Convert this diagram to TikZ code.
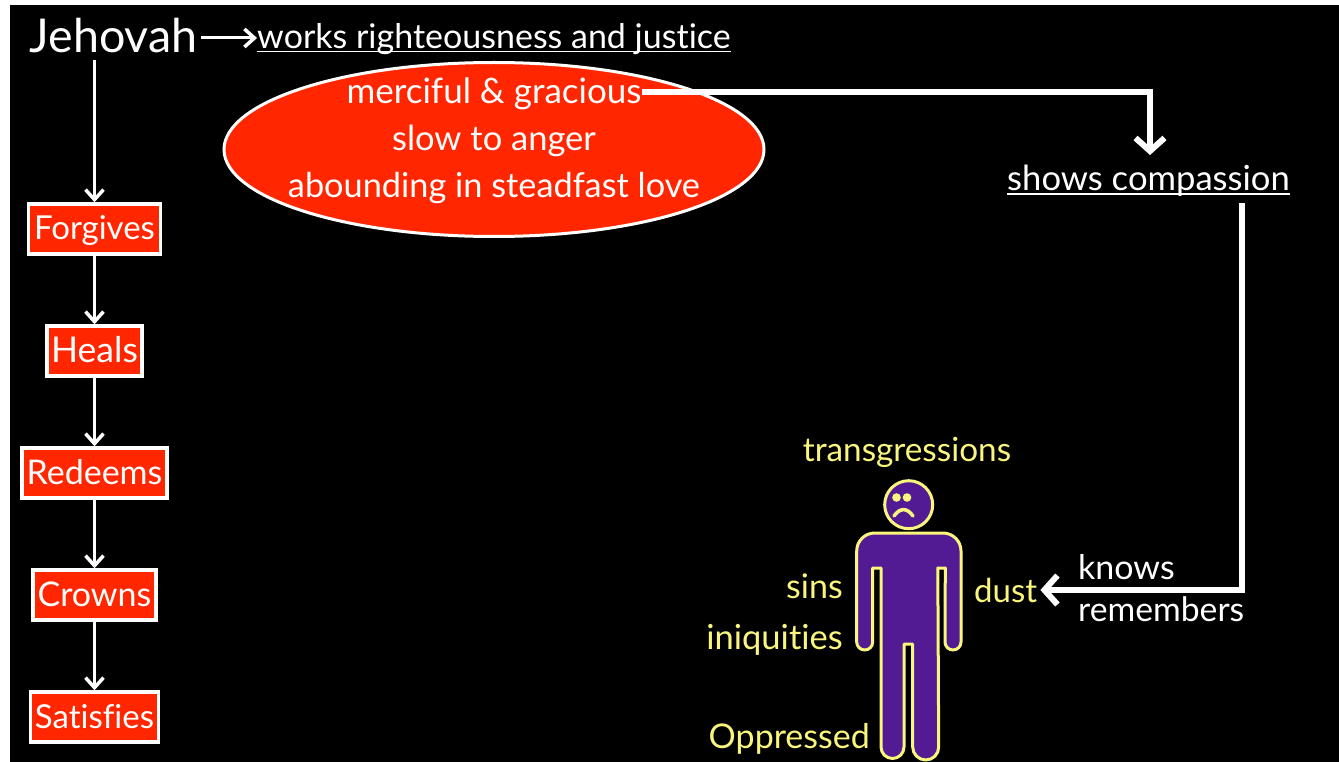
\documentclass[tikz,border=0pt]{standalone}
\usepackage{fontspec}
\setmainfont{Lato}[Ligatures={TeX,NoCommon}]
\usetikzlibrary{arrows.meta,positioning,shapes.geometric}
\definecolor{hotred}{RGB}{255,38,0}
\definecolor{lemon}{RGB}{250,245,125}
\definecolor{grape}{RGB}{83,27,147}
\newcommand{\fs}[1]{\fontsize{#1}{#1}\selectfont}
\tikzset{
 lbl/.style={inner sep=0pt,anchor=base,text=white,font=\fs{34}},
 ylbl/.style={lbl,text=lemon},
 redbox/.style={draw=white,line width=3.5pt,fill=hotred,text=white,inner sep=0pt,minimum height=50pt,text height=27pt,text depth=5pt,font=\fs{33}},
 thin arrow/.style={draw=white,line width=3pt,-{Straight Barb[length=10pt,width=18pt,line width=3.5pt]}},
 thick arrow/.style={draw=white,line width=6pt,-{Straight Barb[length=13pt,width=29pt,line width=6pt]}},
 figure line/.style={draw=lemon,line width=3pt,fill=grape,line join=round},
 rule line/.style={draw=white,line width=1.8pt},
}
\begin{document}
\begin{tikzpicture}[x=1pt,y=-1pt]
\useasboundingbox (0,0) rectangle (1339,762);
\fill[white] (0,0) rectangle (1339,762);
\fill[black] (10,5) rectangle (1339,762);
% left column
\node[lbl,font=\fs{46.6}] (jeh) at (113.5,53) {Jehovah};
\node[redbox,minimum width=132pt] (f) at (94.5,229) {Forgives};
\node[redbox,minimum width=95pt,font=\fs{35.5}] (h) at (94.5,351) {Heals};
\node[redbox,minimum width=145pt,font=\fs{34}] (r) at (94.5,473) {Redeems};
\node[redbox,minimum width=123pt,font=\fs{34}] (c) at (94.5,595) {Crowns};
\node[redbox,minimum width=128pt] (s) at (94.5,717) {Satisfies};
\node[lbl] (w) at (494,48.5) {works righteousness and justice};
\draw[rule line] ([yshift=-3pt]w.base west) -- ([yshift=-3pt]w.base east);
\draw[thin arrow] (201,38) -- (w.west |- 0,38);
\draw[thin arrow] (94.5,60) -- (f.north);
\draw[thin arrow] (f) -- (h);
\draw[thin arrow] (h) -- (r);
\draw[thin arrow] (r) -- (c);
\draw[thin arrow] (c) -- (s);
% ellipse
\node[draw=white,line width=3pt,fill=hotred,ellipse,minimum width=540pt,minimum height=174pt,inner sep=0pt] (e) at (494,149.5) {};
\node[lbl,font=\fs{35}] (m1) at (494,104) {merciful \& gracious};
\node[lbl,font=\fs{34.5}] (m2) at (494,151) {slow to anger};
\node[lbl,font=\fs{34.3}] (m3) at (494,198) {abounding in steadfast love};
\node[lbl,font=\fs{34.6}] (sc) at (1148.5,191) {shows compassion};
\draw[rule line] ([yshift=-3pt]sc.base west) -- ([yshift=-3pt]sc.base east);
\draw[thick arrow] (m1.east |- 0,92) -| (1150,155);
% figure
\node[ylbl,font=\fs{33.3}] (t) at (907,461) {transgressions};
\node[circle,figure line,minimum size=48pt,inner sep=0pt] (head) at (908.7,504.7) {};
\fill[lemon] (896.5,497.5) circle (4.3pt) (907,497.5) circle (4.3pt);
\draw[lemon,line width=3.5pt,line cap=round] (894,516) .. controls (900,507.5) and (907,507.5) .. (913,516);
\draw[figure line] (875,533) -- (943,533) arc[start angle=-90,end angle=0,radius=18] -- (961,642)
 arc[start angle=0,end angle=180,radius=8] -- (945.3,568) -- (937.8,568) -- (938.7,747)
 arc[start angle=0,end angle=180,radius=13] -- (912.7,644) -- (904,644) -- (904,747)
 arc[start angle=0,end angle=180,radius=11.5] -- (881,568) -- (872.7,568) -- (872.7,642)
 arc[start angle=0,end angle=180,radius=8] -- (856.7,551) arc[start angle=180,end angle=270,radius=18] -- cycle;
\node[ylbl,anchor=base east] (sins) at (843,598) {sins};
\node[ylbl,anchor=base east,font=\fs{34.5}] (iniq) at (843,649) {iniquities};
\node[ylbl,anchor=base east] (opp) at (870,748) {Oppressed};
\node[ylbl,anchor=base west,font=\fs{33}] (dust) at (974,602) {dust};
\node[lbl,anchor=base west] (kn) at (1078,579) {knows};
\node[lbl,anchor=base west,font=\fs{33.7}] (rem) at (1078,621) {remembers};
\draw[thick arrow] (1242,203) |- ([xshift=3pt]dust.east |- 0,590);
\end{tikzpicture}
\end{document}
